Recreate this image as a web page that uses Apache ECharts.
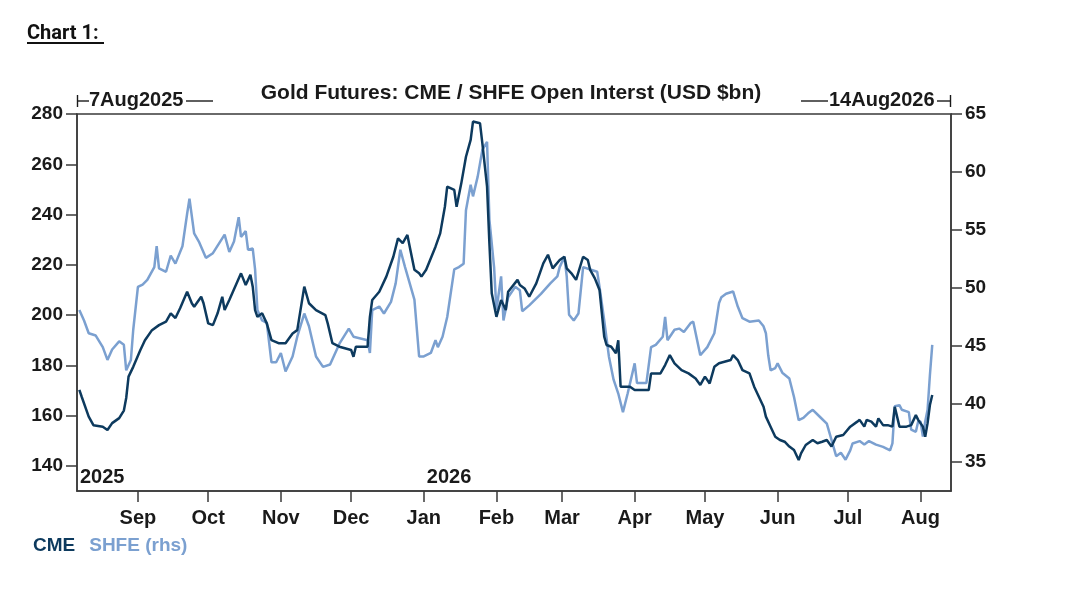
<!DOCTYPE html>
<html>
<head>
<meta charset="utf-8">
<script src="https://cdn.jsdelivr.net/npm/echarts@6/dist/echarts.min.js"></script>
<style>
  html, body { margin: 0; padding: 0; background: #fff; }
  #chart { width: 1080px; height: 593px; }
</style>
</head>
<body>
<div id="chart"></div>
<script type="text/javascript">

// CME open interest, USD bn (left axis)
var cmeData = [
	['2025-08-07',170.2],['2025-08-08',167.5],['2025-08-11',159.6],['2025-08-13',156.2],
	['2025-08-17',155.6],['2025-08-19',154.3],['2025-08-21',157.0],['2025-08-24',159.0],
	['2025-08-26',162.0],['2025-08-27',167.0],['2025-08-28',175.5],['2025-08-30',179.4],
	['2025-09-02',186.0],['2025-09-04',190.0],['2025-09-07',194.0],['2025-09-10',196.0],
	['2025-09-13',197.4],['2025-09-15',200.7],['2025-09-17',198.8],['2025-09-19',202.7],
	['2025-09-22',209.3],['2025-09-24',204.7],['2025-09-25',203.3],['2025-09-28',207.3],
	['2025-09-29',204.7],['2025-10-01',196.7],['2025-10-03',196.0],['2025-10-05',200.7],
	['2025-10-07',207.3],['2025-10-08',202.0],['2025-10-10',206.0],['2025-10-15',216.6],
	['2025-10-17',212.0],['2025-10-19',216.0],['2025-10-20',211.3],['2025-10-21',202.0],
	['2025-10-22',199.3],['2025-10-24',200.7],['2025-10-26',196.7],['2025-10-28',190.0],
	['2025-10-31',188.8],['2025-11-03',188.8],['2025-11-06',192.7],['2025-11-08',194.0],
	['2025-11-11',211.3],['2025-11-13',204.7],['2025-11-16',202.0],['2025-11-20',200.0],
	['2025-11-21',196.7],['2025-11-23',188.8],['2025-11-26',187.4],['2025-12-01',186.1],
	['2025-12-02',183.4],['2025-12-03',187.4],['2025-12-08',187.4],['2025-12-09',199.3],
	['2025-12-10',206.0],['2025-12-13',209.3],['2025-12-16',215.3],['2025-12-19',223.2],
	['2025-12-21',230.5],['2025-12-23',228.6],['2025-12-25',231.9],['2025-12-26',227.2],
	['2025-12-28',218.0],['2025-12-30',216.6],['2025-12-31',215.3],['2026-01-02',218.0],
	['2026-01-06',227.2],['2026-01-08',232.5],['2026-01-10',243.1],['2026-01-11',251.1],
	['2026-01-14',249.8],['2026-01-15',243.1],['2026-01-17',252.4],['2026-01-19',263.0],
	['2026-01-21',269.7],['2026-01-22',277.0],['2026-01-25',276.3],['2026-01-26',268.3],
	['2026-01-28',251.1],['2026-01-29',228.6],['2026-01-30',208.7],['2026-02-01',199.3],
	['2026-02-03',206.0],['2026-02-05',202.0],['2026-02-06',209.3],['2026-02-10',214.0],
	['2026-02-11',212.0],['2026-02-13',210.6],['2026-02-15',207.3],['2026-02-18',212.6],
	['2026-02-21',220.6],['2026-02-23',224.0],['2026-02-25',218.6],['2026-02-28',221.9],
	['2026-03-02',223.2],['2026-03-03',218.6],['2026-03-05',216.6],['2026-03-07',214.0],
	['2026-03-10',223.2],['2026-03-12',221.9],['2026-03-13',218.0],['2026-03-15',214.6],
	['2026-03-17',210.0],['2026-03-18',200.7],['2026-03-19',191.4],['2026-03-20',188.1],
	['2026-03-22',187.4],['2026-03-24',184.8],['2026-03-25',190.0],['2026-03-26',171.5],
	['2026-03-30',171.5],['2026-04-01',170.2],['2026-04-07',170.2],['2026-04-08',176.8],
	['2026-04-12',176.8],['2026-04-14',180.1],['2026-04-16',184.1],['2026-04-18',180.8],
	['2026-04-21',178.1],['2026-04-24',176.8],['2026-04-27',174.8],['2026-04-29',172.2],
	['2026-05-01',175.5],['2026-05-03',172.8],['2026-05-05',179.4],['2026-05-07',180.8],
	['2026-05-12',182.1],['2026-05-13',184.1],['2026-05-15',182.1],['2026-05-17',178.1],
	['2026-05-20',176.8],['2026-05-22',171.5],['2026-05-24',167.5],['2026-05-26',163.5],
	['2026-05-27',159.6],['2026-05-29',155.6],['2026-05-31',151.6],['2026-06-02',150.3],
	['2026-06-04',149.6],['2026-06-06',147.7],['2026-06-08',146.3],['2026-06-10',142.3],
	['2026-06-11',145.0],['2026-06-13',148.3],['2026-06-16',150.3],['2026-06-18',149.0],
	['2026-06-20',149.6],['2026-06-22',150.3],['2026-06-24',147.7],['2026-06-26',151.6],
	['2026-06-29',152.3],['2026-07-02',155.6],['2026-07-05',157.6],['2026-07-06',158.3],
	['2026-07-08',155.6],['2026-07-09',158.3],['2026-07-11',157.6],['2026-07-13',155.6],
	['2026-07-14',158.9],['2026-07-16',156.2],['2026-07-18',156.2],['2026-07-20',155.6],
	['2026-07-21',163.5],['2026-07-23',155.6],['2026-07-26',155.6],['2026-07-28',156.2],
	['2026-07-30',160.2],['2026-07-31',158.3],['2026-08-02',155.6],['2026-08-03',151.6],
	['2026-08-04',157.0],['2026-08-05',164.2],['2026-08-06',168.2]
];

// SHFE open interest, USD bn (right axis)
var shfeData = [
	['2025-08-07',48.1],['2025-08-09',47.2],['2025-08-11',46.1],['2025-08-14',45.9],
	['2025-08-17',44.9],['2025-08-19',43.8],['2025-08-21',44.7],['2025-08-24',45.4],
	['2025-08-26',45.1],['2025-08-27',42.9],['2025-08-29',43.8],['2025-08-30',46.4],
	['2025-09-01',50.1],['2025-09-03',50.3],['2025-09-05',50.7],['2025-09-08',51.8],
	['2025-09-09',53.6],['2025-09-10',51.7],['2025-09-13',51.4],['2025-09-15',52.8],
	['2025-09-17',52.1],['2025-09-20',53.6],['2025-09-22',56.4],['2025-09-23',57.7],
	['2025-09-25',54.7],['2025-09-27',54.0],['2025-09-30',52.6],['2025-10-03',53.0],
	['2025-10-08',54.6],['2025-10-10',53.1],['2025-10-12',54.0],['2025-10-14',56.1],
	['2025-10-15',54.4],['2025-10-17',54.9],['2025-10-18',53.3],['2025-10-20',53.4],
	['2025-10-21',51.6],['2025-10-22',48.1],['2025-10-24',47.2],['2025-10-26',47.0],
	['2025-10-28',43.6],['2025-10-30',43.6],['2025-11-01',44.4],['2025-11-03',42.8],
	['2025-11-06',44.1],['2025-11-08',45.8],['2025-11-11',47.8],['2025-11-13',46.7],
	['2025-11-16',44.1],['2025-11-19',43.2],['2025-11-22',43.4],['2025-11-26',45.2],
	['2025-11-30',46.5],['2025-12-02',45.8],['2025-12-08',45.5],['2025-12-09',44.4],
	['2025-12-10',48.1],['2025-12-13',48.4],['2025-12-15',47.8],['2025-12-18',48.8],
	['2025-12-20',50.4],['2025-12-22',53.3],['2025-12-24',51.8],['2025-12-26',50.4],
	['2025-12-28',49.0],['2025-12-30',44.1],['2026-01-01',44.1],['2026-01-04',44.4],
	['2026-01-06',45.5],['2026-01-07',44.9],['2026-01-09',45.8],['2026-01-11',47.5],
	['2026-01-14',51.6],['2026-01-16',51.8],['2026-01-18',52.1],['2026-01-19',56.7],
	['2026-01-21',58.9],['2026-01-22',57.9],['2026-01-24',59.6],['2026-01-26',61.9],
	['2026-01-28',62.6],['2026-01-29',55.9],['2026-01-31',51.8],['2026-02-01',48.1],
	['2026-02-03',51.0],['2026-02-04',47.2],['2026-02-06',49.2],['2026-02-09',50.1],
	['2026-02-11',49.8],['2026-02-12',48.0],['2026-02-15',48.5],['2026-02-20',49.5],
	['2026-02-24',50.4],['2026-02-27',51.0],['2026-02-28',51.8],['2026-03-02',52.7],
	['2026-03-03',51.0],['2026-03-04',47.7],['2026-03-06',47.2],['2026-03-08',47.8],
	['2026-03-10',51.8],['2026-03-13',51.6],['2026-03-16',51.4],['2026-03-17',50.1],
	['2026-03-19',47.2],['2026-03-21',44.1],['2026-03-23',42.1],['2026-03-25',40.9],
	['2026-03-27',39.3],['2026-03-29',40.9],['2026-04-01',43.5],['2026-04-02',41.8],
	['2026-04-06',41.8],['2026-04-08',44.9],['2026-04-10',45.1],['2026-04-13',45.8],
	['2026-04-14',47.5],['2026-04-15',45.5],['2026-04-18',46.4],['2026-04-20',46.5],
	['2026-04-22',46.2],['2026-04-25',47.0],['2026-04-26',47.1],['2026-04-29',44.2],
	['2026-05-02',44.9],['2026-05-05',46.1],['2026-05-07',48.7],['2026-05-08',49.2],
	['2026-05-10',49.5],['2026-05-13',49.7],['2026-05-15',48.4],['2026-05-17',47.4],
	['2026-05-20',47.1],['2026-05-24',47.2],['2026-05-26',46.7],['2026-05-27',46.1],
	['2026-05-28',44.2],['2026-05-29',42.9],['2026-05-31',43.1],['2026-06-01',43.5],
	['2026-06-03',42.7],['2026-06-06',42.2],['2026-06-08',40.6],['2026-06-10',38.6],
	['2026-06-12',38.8],['2026-06-14',39.2],['2026-06-16',39.5],['2026-06-19',38.9],
	['2026-06-22',38.3],['2026-06-24',36.9],['2026-06-26',35.5],['2026-06-28',35.8],
	['2026-06-30',35.2],['2026-07-02',36.0],['2026-07-03',36.6],['2026-07-06',36.8],
	['2026-07-08',36.5],['2026-07-10',36.8],['2026-07-13',36.5],['2026-07-16',36.3],
	['2026-07-19',36.0],['2026-07-20',36.6],['2026-07-21',39.8],['2026-07-23',39.9],
	['2026-07-24',39.5],['2026-07-27',39.3],['2026-07-28',37.8],['2026-07-30',37.6],
	['2026-07-31',38.5],['2026-08-01',38.5],['2026-08-02',37.2],['2026-08-03',38.5],
	['2026-08-04',39.5],['2026-08-05',42.5],['2026-08-06',45.1]
];

var monthTicks = ['2025-09-01','2025-10-01','2025-11-01','2025-12-01','2026-01-01','2026-02-01',
	'2026-03-01','2026-04-01','2026-05-01','2026-06-01','2026-07-01','2026-08-01'];
var yearTicks = ['2025-08-06','2026-01-01'];
var leftTicks = [140, 160, 180, 200, 220, 240, 260, 280];
var rightTicks = [35, 40, 45, 50, 55, 60, 65];

var startLabel = '7Aug2025';
var endLabel = '14Aug2026';

var CME_COLOR = '#0d3a5e';
var SHFE_COLOR = '#7ba0d0';
var AXIS_COLOR = '#3a3a3a';
var TEXT_COLOR = '#1a1a1a';
var FONT = '"Liberation Sans", Arial, sans-serif';

var xMin = echarts.time.parse('2025-08-06').getTime();
var xMax = echarts.time.parse('2026-08-14').getTime();

function toTime(list) {
	return list.map(function (d) { return echarts.time.parse(d).getTime(); });
}
function toPoints(list) {
	return list.map(function (d) { return [echarts.time.parse(d[0]).getTime(), d[1]]; });
}

function textStyle(size) {
	return { color: TEXT_COLOR, fontFamily: FONT, fontWeight: 'bold', fontSize: size };
}

var chart = echarts.init(document.getElementById('chart'));

var option = {
	animation: false,
	backgroundColor: '#fff',
	title: [{
		text: 'Chart 1:',
		left: 22,
		top: 19,
		textStyle: {
			fontFamily: 'Roboto, sans-serif',
			fontWeight: 'bold',
			fontSize: 20,
			color: '#111'
		}
	}, {
		text: 'Gold Futures: CME / SHFE Open Interst (USD $bn)',
		left: 506,
		textAlign: 'center',
		top: 78,
		textStyle: textStyle(21)
	}],
	legend: {
		left: 23,
		top: 531,
		icon: 'none',
		itemWidth: 0,
		itemGap: 9,
		textStyle: { fontFamily: FONT, fontWeight: 'bold', fontSize: 19 },
		data: [
			{ name: 'CME', textStyle: { color: CME_COLOR } },
			{ name: 'SHFE (rhs)', textStyle: { color: SHFE_COLOR } }
		]
	},
	grid: {
		left: 77,
		right: 129,
		top: 114,
		bottom: 102,
		show: true,
		borderColor: AXIS_COLOR,
		borderWidth: 1.5
	},
	xAxis: [{
		type: 'value',
		min: xMin,
		max: xMax,
		axisLine: { lineStyle: { color: AXIS_COLOR, width: 1.5 } },
		axisTick: { length: 11, lineStyle: { color: AXIS_COLOR, width: 1.5 }, customValues: toTime(monthTicks) },
		axisLabel: Object.assign({
			margin: 17,
			customValues: toTime(monthTicks),
			formatter: function (v) { return echarts.time.format(v, '{MMM}', false); }
		}, textStyle(20)),
		splitLine: { show: false }
	}, {
		type: 'value',
		position: 'bottom',
		min: xMin,
		max: xMax,
		axisLine: { show: false },
		axisTick: { show: false },
		axisLabel: Object.assign({
			inside: true,
			margin: 4,
			align: 'left',
			padding: [0, 0, 0, 3],
			customValues: toTime(yearTicks),
			formatter: function (v) { return echarts.time.format(v, '{yyyy}', false); }
		}, textStyle(20)),
		splitLine: { show: false }
	}],
	yAxis: [{
		type: 'value',
		min: 130,
		max: 280,
		axisLine: { show: true, lineStyle: { color: AXIS_COLOR, width: 1.5 } },
		axisTick: { show: true, length: 11, lineStyle: { color: AXIS_COLOR, width: 1.5 }, customValues: leftTicks },
		axisLabel: Object.assign({ margin: 14, customValues: leftTicks }, textStyle(19)),
		splitLine: { show: false }
	}, {
		type: 'value',
		position: 'right',
		min: 32.5,
		max: 65,
		axisLine: { show: true, lineStyle: { color: AXIS_COLOR, width: 1.5 } },
		axisTick: { show: true, length: 11, lineStyle: { color: AXIS_COLOR, width: 1.5 }, customValues: rightTicks },
		axisLabel: Object.assign({ margin: 14, customValues: rightTicks }, textStyle(19)),
		splitLine: { show: false }
	}],
	series: [{
		name: 'SHFE (rhs)',
		type: 'line',
		yAxisIndex: 1,
		showSymbol: false,
		color: SHFE_COLOR,
		lineStyle: { width: 2.5, color: SHFE_COLOR },
		data: toPoints(shfeData)
	}, {
		name: 'CME',
		type: 'line',
		yAxisIndex: 0,
		showSymbol: false,
		color: CME_COLOR,
		lineStyle: { width: 2.5, color: CME_COLOR },
		data: toPoints(cmeData)
	}],
	graphic: [
		// start-date marker above the top-left corner
		{ type: 'line', shape: { x1: 77.5, y1: 95, x2: 77.5, y2: 107 }, style: { stroke: TEXT_COLOR, lineWidth: 1.4 } },
		{ type: 'line', shape: { x1: 77.5, y1: 101, x2: 89, y2: 101 }, style: { stroke: TEXT_COLOR, lineWidth: 1.4 } },
		{ type: 'text', left: 89, top: 90, style: { text: startLabel, fill: TEXT_COLOR, font: 'bold 20px ' + FONT } },
		{ type: 'line', shape: { x1: 186, y1: 101, x2: 213, y2: 101 }, style: { stroke: TEXT_COLOR, lineWidth: 1.4 } },
		// end-date marker above the top-right corner
		{ type: 'line', shape: { x1: 801, y1: 101, x2: 828, y2: 101 }, style: { stroke: TEXT_COLOR, lineWidth: 1.4 } },
		{ type: 'text', left: 829, top: 90, style: { text: endLabel, fill: TEXT_COLOR, font: 'bold 20px ' + FONT } },
		{ type: 'line', shape: { x1: 937, y1: 101, x2: 950.5, y2: 101 }, style: { stroke: TEXT_COLOR, lineWidth: 1.4 } },
		{ type: 'line', shape: { x1: 950.5, y1: 95, x2: 950.5, y2: 107 }, style: { stroke: TEXT_COLOR, lineWidth: 1.4 } },
		// underline of "Chart 1:"
		{ type: 'line', shape: { x1: 27, y1: 43, x2: 104, y2: 43 }, style: { stroke: '#111', lineWidth: 1.8 } }
	]
};

chart.setOption(option);

</script>
</body>
</html>
